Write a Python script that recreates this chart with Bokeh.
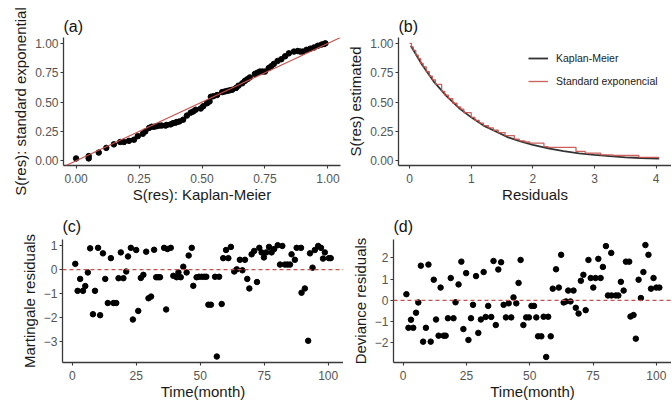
from bokeh.plotting import figure
from bokeh.layouts import row, column
from bokeh.models import Range1d, FixedTicker, NumeralTickFormatter, Slope, Span, Legend, LegendItem
from bokeh.embed import file_html
from bokeh.resources import INLINE

FONT = "Liberation Sans"

# ---------- panel (a): S(res) Kaplan-Meier vs standard exponential ----------
km_x = [0.00, 0.05, 0.05, 0.09, 0.12, 0.15, 0.175, 0.19, 0.21, 0.23,
        0.245, 0.265, 0.275, 0.29, 0.30, 0.31, 0.32, 0.33, 0.34, 0.355,
        0.36, 0.375, 0.385, 0.395, 0.40, 0.41, 0.425, 0.44, 0.455, 0.465,
        0.475, 0.495, 0.505, 0.52, 0.53, 0.535, 0.545, 0.56, 0.58, 0.59,
        0.60, 0.61, 0.62, 0.635, 0.645, 0.66, 0.67, 0.68, 0.69, 0.71,
        0.72, 0.73, 0.74, 0.75, 0.765, 0.775, 0.785, 0.80, 0.815, 0.83,
        0.845, 0.865, 0.88, 0.89, 0.90, 0.915, 0.93, 0.945, 0.96, 0.975,
        0.985, 0.99]
exp_y = [0.02, 0.02, 0.04, 0.07, 0.11, 0.14, 0.16, 0.16, 0.17, 0.18,
         0.21, 0.23, 0.25, 0.28, 0.29, 0.29, 0.295, 0.30, 0.30, 0.30,
         0.305, 0.31, 0.32, 0.325, 0.33, 0.335, 0.35, 0.385, 0.41, 0.42,
         0.435, 0.445, 0.465, 0.49, 0.505, 0.545, 0.55, 0.56, 0.585, 0.59,
         0.595, 0.60, 0.605, 0.62, 0.64, 0.66, 0.68, 0.695, 0.71, 0.74,
         0.75, 0.76, 0.76, 0.76, 0.79, 0.805, 0.825, 0.85, 0.865, 0.89,
         0.915, 0.93, 0.935, 0.93, 0.93, 0.945, 0.955, 0.965, 0.98, 0.99,
         0.995, 1.00]

# ---------- panel (b): survival of residuals ----------
res_grid = [0.02, 0.2, 0.4, 0.6, 0.8, 1.0, 1.2, 1.4, 1.6, 1.8, 2.0, 2.25, 2.5,
            2.75, 3.0, 3.25, 3.5, 3.75, 4.05]
surv_exp = [0.98, 0.82, 0.67, 0.55, 0.45, 0.37, 0.30, 0.25, 0.20, 0.165, 0.135,
            0.105, 0.082, 0.064, 0.05, 0.039, 0.03, 0.024, 0.018]
km_res = [0.00, 0.03, 0.06, 0.10, 0.14, 0.18, 0.22, 0.27, 0.32, 0.37,
          0.42, 0.52, 0.57, 0.63, 0.70, 0.77, 0.83, 0.88, 1.00, 1.06,
          1.13, 1.20, 1.28, 1.36, 1.44, 1.55, 1.70, 1.78, 1.87, 1.95,
          2.18, 2.25, 2.70, 2.85, 3.10, 3.30, 3.72, 4.04]
km_surv = [1.00, 0.97, 0.94, 0.90, 0.87, 0.83, 0.80, 0.76, 0.72, 0.69,
           0.65, 0.59, 0.56, 0.53, 0.49, 0.46, 0.44, 0.41, 0.37, 0.345,
           0.32, 0.30, 0.28, 0.26, 0.24, 0.215, 0.185, 0.17, 0.16, 0.15,
           0.12, 0.115, 0.08, 0.065, 0.05, 0.045, 0.03, 0.02]

# ---------- panel (c): martingale residuals ----------
c_time = [1.2, 2.1, 3.1, 4.2, 5.1, 6.1, 7.0, 8.1, 8.9, 10.1,
          10.9, 12.0, 12.9, 13.9, 15.1, 16.1, 17.2, 18.1, 19.0, 20.0,
          21.1, 21.8, 22.9, 23.7, 25.0, 25.8, 26.8, 27.8, 28.9, 29.8,
          30.8, 32.0, 32.8, 33.6, 34.3, 35.9, 36.7, 37.2, 38.5, 39.5,
          40.8, 41.5, 42.4, 43.4, 44.7, 45.5, 46.7, 47.3, 48.6, 49.5,
          50.6, 51.6, 52.4, 53.2, 54.2, 55.8, 56.5, 57.4, 58.4, 59.0,
          60.1, 61.0, 62.0, 63.3, 64.3, 65.5, 66.5, 67.5, 68.4, 69.2,
          70.1, 71.1, 72.2, 73.1, 74.0, 74.9, 75.8, 76.9, 77.9, 78.9,
          80.3, 81.2, 82.1, 83.1, 84.1, 85.1, 85.7, 87.0, 87.7, 89.4,
          89.6, 90.9, 92.2, 92.9, 93.9, 94.8, 96.1, 97.2, 98.0, 98.7,
          100.3, 101.0]
martingale = [0.24, -0.89, -0.39, -0.89, -0.69, -0.12, 0.89, -1.87, -0.89, 0.91,
              -1.91, 0.68, -0.39, -1.40, 0.48, -1.40, -1.40, -0.36, 0.72, -0.36,
              -0.08, 0.55, 0.91, -2.09, 0.82, -1.73, -0.35, -0.22, 0.75, -1.20,
              -1.13, 0.83, -0.32, -0.32, -0.32, 0.91, -1.67, 0.86, 0.91, -0.26,
              -0.32, -0.12, -0.32, 0.12, -0.12, 0.59, 0.91, -0.68, -0.32, -0.30,
              -0.30, -0.30, -0.30, -1.47, -1.47, -0.30, -3.64, -0.30, -1.44, 0.48,
              0.82, 0.48, 0.95, -0.08, 0.01, 0.41, -0.03, 0.41, -0.39, -0.79,
              0.64, 0.78, -0.52, 0.91, 0.72, 0.51, 0.72, 0.95, 0.72, 0.86,
              1.02, 0.21, 0.99, 0.21, 0.21, 0.21, 0.64, 0.41, 0.91, 0.91,
              -0.97, -0.79, -2.98, 0.68, 0.08, 0.82, 0.99, 0.91, 0.46, 0.72,
              0.48, 0.48]

# ---------- panel (d): deviance residuals ----------
d_time = [1.3, 2.1, 3.1, 4.0, 5.1, 6.0, 7.0, 7.9, 9.0, 10.0,
          10.9, 12.1, 13.0, 14.0, 14.8, 16.0, 16.8, 17.7, 18.8, 19.9,
          20.7, 21.9, 23.0, 23.8, 24.9, 25.8, 26.8, 27.6, 28.8, 29.7,
          30.7, 31.8, 32.6, 33.6, 34.8, 35.7, 36.6, 37.6, 38.7, 39.7,
          40.6, 41.7, 42.7, 43.6, 44.7, 45.6, 46.4, 47.5, 48.6, 49.7,
          50.7, 51.7, 52.6, 53.3, 54.6, 55.5, 56.5, 57.3, 58.3, 59.1,
          60.4, 61.5, 62.4, 63.4, 64.3, 65.2, 66.1, 67.3, 68.2, 69.3,
          70.2, 71.2, 72.1, 73.2, 74.1, 75.1, 76.0, 77.1, 78.0, 78.9,
          80.1, 80.9, 82.2, 82.3, 84.0, 85.0, 86.0, 87.1, 88.0, 89.3,
          89.8, 91.0, 91.9, 93.0, 93.9, 94.9, 95.7, 96.9, 97.9, 98.9,
          100.0, 101.2]
deviance = [0.29, -1.29, -0.91, -1.29, -0.58, -0.10, 1.63, -1.94, -1.29, 1.68,
            -1.94, 0.97, -0.90, -1.66, 0.60, -1.66, -1.66, -0.84, 1.05, -0.84,
            -0.09, 0.75, 1.82, -1.35, 1.28, -1.86, -0.84, -0.21, 1.14, -1.53,
            -0.90, 1.33, -0.78, -0.26, -0.78, 1.85, -1.16, 1.45, 1.79, -0.21,
            -0.80, -0.14, -0.80, 0.14, -0.14, 0.82, 1.90, -1.16, -0.80, -0.80,
            -0.26, -0.26, -0.80, -1.69, -1.69, -0.77, -2.66, -0.77, -1.69, 0.55,
            1.46, 0.60, 2.14, -0.10, -0.05, 0.46, -0.05, 0.46, -0.35, -0.62,
            0.92, 1.20, -0.46, 1.90, 1.05, 0.60, 1.05, 1.95, 1.05, 1.57,
            2.55, 0.23, 2.23, 0.23, 0.23, 0.23, 0.87, 0.46, 1.82, 1.82,
            -0.76, -0.69, -1.80, 0.97, 0.11, 1.33, 2.60, 2.14, 0.55, 1.05,
            0.60, 0.60]

prob_ticks = [0.0, 0.25, 0.5, 0.75, 1.0]
res_ticks = [0, 1, 2, 3, 4]
time_ticks = [0, 25, 50, 75, 100]
mart_ticks = [-3, -2, -1, 0, 1]
dev_ticks = [-2, -1, 0, 1, 2]

AX = "#3a3a3a"
RED = "#C8504B"


def make(title, w, h, xr, yr, bl, br, bt, bb, tstand):
    p = figure(width=w, height=h, x_range=Range1d(*xr), y_range=Range1d(*yr),
               output_backend="svg", toolbar_location=None, title=title,
               min_border_left=bl, min_border_right=br, min_border_top=bt,
               min_border_bottom=bb)
    p.xgrid.visible = False
    p.ygrid.visible = False
    p.outline_line_color = None
    p.background_fill_color = "white"
    p.border_fill_color = "white"
    p.title.text_font = FONT
    p.title.text_font_size = "16px"
    p.title.text_font_style = "normal"
    p.title.text_color = "#111111"
    p.title.text_line_height = 1.0
    p.title.align = "left"
    p.title.standoff = tstand
    for ax in (p.xaxis[0], p.yaxis[0]):
        ax.axis_line_color = AX
        ax.axis_line_width = 1.3
        ax.major_tick_line_color = AX
        ax.major_tick_line_width = 1.1
        ax.major_tick_in = 0
        ax.major_tick_out = 3
        ax.minor_tick_line_color = None
        ax.major_label_text_font = FONT
        ax.major_label_text_font_size = "12px"
        ax.major_label_text_color = "#555555"
        ax.major_label_text_line_height = 1.0
        ax.axis_label_text_font = FONT
        ax.axis_label_text_font_size = "15px"
        ax.axis_label_text_font_style = "normal"
        ax.axis_label_text_color = "#1a1a1a"
        ax.axis_label_text_line_height = 1.0
    p.xaxis.major_label_standoff = 5
    p.xaxis.axis_label_standoff = 0
    p.yaxis.major_label_standoff = 2
    p.yaxis.axis_label_standoff = 3
    return p


W1, W2, H1, H2 = 343, 328, 205, 197

# (a)
pa = make("(a)", W1, H1, (-0.05, 1.05), (-0.04, 1.05), 63, 3, 37, 40, 5)
pa.scatter(km_x, exp_y, size=5.5, color="black")
pa.add_layout(Slope(gradient=1, y_intercept=0, line_color=RED, line_width=1.1))
pa.xaxis.ticker = FixedTicker(ticks=prob_ticks)
pa.yaxis.ticker = FixedTicker(ticks=prob_ticks)
pa.xaxis.formatter = NumeralTickFormatter(format="0.00")
pa.yaxis.formatter = NumeralTickFormatter(format="0.00")
pa.xaxis.axis_label = "S(res): Kaplan-Meier"
pa.yaxis.axis_label = "S(res): standard exponential"

# (b)
pb = make("(b)", W2, H1, (-0.18, 4.25), (-0.04, 1.05), 55, 0, 37, 40, 5)
r_exp = pb.line(res_grid, surv_exp, line_color="#333333", line_width=1.8)
r_km = pb.step(km_res, km_surv, mode="after", line_color=RED, line_width=1.3, line_alpha=0.9)
pb.xaxis.ticker = FixedTicker(ticks=res_ticks)
pb.yaxis.ticker = FixedTicker(ticks=prob_ticks)
pb.yaxis.formatter = NumeralTickFormatter(format="0.00")
pb.xaxis.axis_label = "Residuals"
pb.yaxis.axis_label = "S(res) estimated"
leg = Legend(items=[LegendItem(label="Kaplan-Meier", renderers=[r_exp]),
                    LegendItem(label="Standard exponencial", renderers=[r_km])],
             location=(130, 74), border_line_color=None, background_fill_alpha=0,
             padding=0, margin=0, spacing=3, glyph_width=20, glyph_height=20,
             label_height=20, label_standoff=8, label_text_font=FONT,
             label_text_font_size="10.5px", label_text_color="#1a1a1a")
pb.add_layout(leg)

# (c)
pc = make("(c)", W1, H2, (-3.8, 106.0), (-3.89, 1.26), 62, 0, 34, 38, 9)
pc.add_layout(Span(location=0, dimension="width", line_color=RED, line_dash="4 3", line_width=1.2))
pc.scatter(c_time, martingale, size=5.5, color="black")
pc.xaxis.ticker = FixedTicker(ticks=time_ticks)
pc.yaxis.ticker = FixedTicker(ticks=mart_ticks)
pc.xaxis.axis_label = "Time(month)"
pc.yaxis.axis_label = "Martingale residuals"

# (d)
pd_ = make("(d)", W2, H2, (-3.8, 106.0), (-2.92, 2.86), 50, 0, 34, 38, 9)
pd_.add_layout(Span(location=0, dimension="width", line_color=RED, line_dash="4 3", line_width=1.2))
pd_.scatter(d_time, deviance, size=5.5, color="black")
pd_.xaxis.ticker = FixedTicker(ticks=time_ticks)
pd_.yaxis.ticker = FixedTicker(ticks=dev_ticks)
pd_.xaxis.axis_label = "Time(month)"
pd_.yaxis.axis_label = "Deviance residuals"

layout = column(row(pa, pb), row(pc, pd_))

with open("out.html", "w") as f:
    f.write(file_html(layout, INLINE))
